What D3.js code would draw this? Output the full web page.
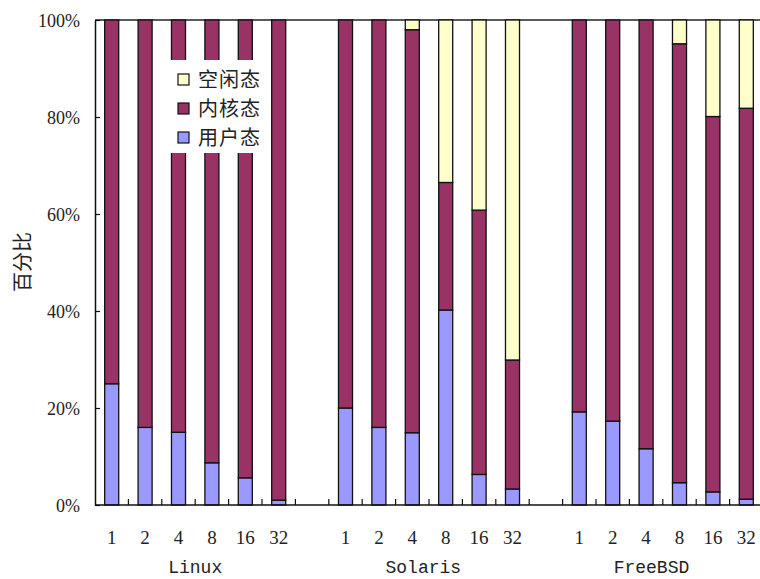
<!DOCTYPE html>
<html>
<head>
<meta charset="utf-8">
<script src="https://cdn.jsdelivr.net/npm/d3@7"></script>
<style>
html,body{margin:0;padding:0;background:#fff;overflow:hidden;}
svg{display:block;}
</style>
</head>
<body>
<svg id="chart" width="760" height="579"></svg>
<script>
const groups = ["Linux", "Solaris", "FreeBSD"];
const threads = ["1", "2", "4", "8", "16", "32"];
const seriesNames = ["用户态", "内核态", "空闲态"];
const userPct   = [25, 16, 15, 8.7, 5.6, 1.0,   20, 16, 14.9, 40.2, 6.3, 3.3,   19.2, 17.3, 11.6, 4.6, 2.7, 1.2];
const kernelPct = [75, 84, 85, 91.3, 94.4, 99,  80, 84, 83.1, 26.3, 54.5, 26.6, 80.8, 82.7, 88.4, 90.5, 77.4, 80.6];
const idlePct   = [0, 0, 0, 0, 0, 0,            0, 0, 2.0, 33.5, 39.2, 70.1,    0, 0, 0, 4.9, 19.9, 18.2];
const yTicks = [0, 20, 40, 60, 80, 100];
const colors = ["#9999FF", "#993366", "#FFFFCC"];

const svg = d3.select("#chart");
const margin = {left: 95, top: 20};
const nSlots = 20;
const plotW = 668, plotH = 485;
const g = svg.append("g").attr("transform", `translate(${margin.left},${margin.top})`);

const serif = "'Liberation Serif', 'Times New Roman', serif";

// table of bars
const rows = [];
groups.forEach((grp, gi) => threads.forEach((t, ti) => {
  const i = gi * 6 + ti;
  rows.push({slot: gi * 7 + ti, thread: t, group: grp, vals: [userPct[i], kernelPct[i], idlePct[i]]});
}));

const x = d3.scaleBand().domain(d3.range(nSlots)).range([0, plotW]).paddingInner(0.58).paddingOuter(0.29);
const slotX = d3.scaleLinear().domain([0, nSlots]).range([0, plotW]);
const y = d3.scaleLinear().domain([0, 100]).range([plotH, 0]);

// top border
g.append("line").attr("x1", 0).attr("x2", plotW).attr("y1", 0).attr("y2", 0)
  .attr("stroke", "#222").attr("stroke-width", 1.5);

// bars
rows.forEach(r => {
  let base = 0;
  r.vals.forEach((v, si) => {
    if (v > 0) {
      g.append("rect")
        .attr("x", x(r.slot))
        .attr("y", y(base + v))
        .attr("width", x.bandwidth())
        .attr("height", y(base) - y(base + v))
        .attr("fill", colors[si])
        .attr("stroke", "#111")
        .attr("stroke-width", 1.3);
    }
    base += v;
  });
});

// y axis
const yAxis = d3.axisLeft(y).tickValues(yTicks).tickFormat(d => d + "%")
  .tickSizeInner(-5).tickSizeOuter(0).tickPadding(15);
const ya = g.append("g").call(yAxis).attr("font-family", serif);
ya.select(".domain").attr("stroke", "#111").attr("stroke-width", 1.5);
ya.selectAll(".tick line").attr("stroke", "#111").attr("stroke-width", 1.2);
ya.selectAll(".tick text").style("font-family", serif).attr("font-size", 18)
  .attr("fill", "#222").attr("dy", "0.38em");

// x baseline and ticks
g.append("line").attr("x1", 0).attr("x2", plotW).attr("y1", plotH).attr("y2", plotH)
  .attr("stroke", "#111").attr("stroke-width", 1.5);
g.selectAll(".xtick").data(d3.range(1, nSlots)).join("line")
  .attr("x1", d => slotX(d)).attr("x2", d => slotX(d))
  .attr("y1", plotH).attr("y2", plotH - 6)
  .attr("stroke", "#111").attr("stroke-width", 1.2);

// thread labels
g.selectAll(".tl").data(rows).join("text")
  .attr("x", d => x(d.slot) + x.bandwidth() / 2)
  .attr("y", plotH + 39)
  .attr("text-anchor", "middle")
  .style("font-family", serif).attr("font-size", 19).attr("fill", "#222")
  .text(d => d.thread);

// group labels
g.selectAll(".gl").data(groups).join("text")
  .attr("x", (d, i) => slotX(3 + i * 6.83))
  .attr("y", plotH + 68)
  .attr("text-anchor", "middle")
  .style("font-family", "'Liberation Mono', monospace").attr("font-size", 18).attr("fill", "#222")
  .text(d => d);

// y axis title
svg.append("text")
  .attr("transform", `translate(30,262) rotate(-90)`)
  .attr("text-anchor", "middle")
  .style("font-family", "'Noto Sans CJK SC', sans-serif").attr("font-size", 20).attr("fill", "#222")
  .text("百分比");

// legend
const lg = svg.append("g").attr("transform", "translate(170,60)");
lg.append("rect").attr("x", 0).attr("y", 0).attr("width", 98).attr("height", 93).attr("fill", "#fff");
const legendOrder = [2, 1, 0];
legendOrder.forEach((si, k) => {
  const cy = 20 + k * 29;
  lg.append("rect").attr("x", 8).attr("y", cy - 6).attr("width", 11).attr("height", 11)
    .attr("fill", colors[si]).attr("stroke", "#111").attr("stroke-width", 1.2);
  lg.append("text").attr("x", 28).attr("y", cy).attr("dy", "0.36em")
    .style("font-family", "'Noto Sans CJK SC', sans-serif").attr("font-size", 20)
    .attr("letter-spacing", 1).attr("fill", "#222")
    .text(seriesNames[si]);
});
</script>
</body>
</html>
